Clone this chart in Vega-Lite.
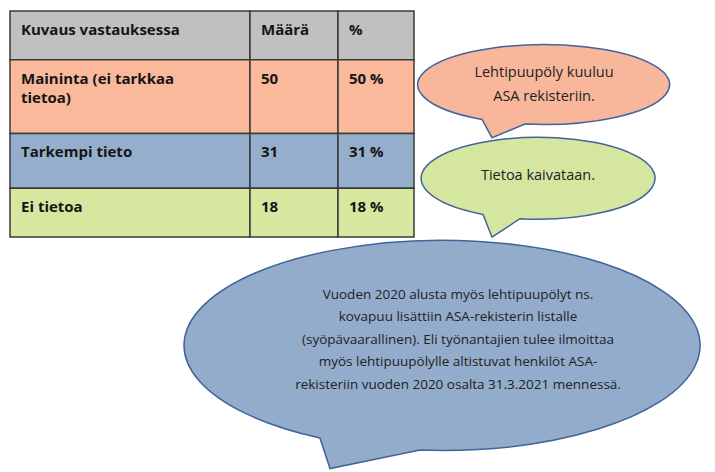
{
  "$schema": "https://vega.github.io/schema/vega-lite/v6.json",
  "width": 715,
  "height": 472,
  "padding": 0,
  "autosize": {"type": "fit", "contains": "padding"},
  "background": "white",
  "config": {"view": {"stroke": null}},
  "datasets": {
    "cells": [
      {"row": "header", "x0": 10, "x1": 250, "y0": 11, "y1": 60, "label": "Kuvaus vastauksessa"},
      {"row": "header", "x0": 250, "x1": 338, "y0": 11, "y1": 60, "label": "Määrä"},
      {"row": "header", "x0": 338, "x1": 414, "y0": 11, "y1": 60, "label": "%"},
      {"row": "Maininta", "x0": 10, "x1": 250, "y0": 60, "y1": 134, "label": "Maininta (ei tarkkaa|tietoa)"},
      {"row": "Maininta", "x0": 250, "x1": 338, "y0": 60, "y1": 134, "label": "50"},
      {"row": "Maininta", "x0": 338, "x1": 414, "y0": 60, "y1": 134, "label": "50 %"},
      {"row": "Tarkempi", "x0": 10, "x1": 250, "y0": 134, "y1": 189, "label": "Tarkempi tieto"},
      {"row": "Tarkempi", "x0": 250, "x1": 338, "y0": 134, "y1": 189, "label": "31"},
      {"row": "Tarkempi", "x0": 338, "x1": 414, "y0": 134, "y1": 189, "label": "31 %"},
      {"row": "Ei tietoa", "x0": 10, "x1": 250, "y0": 189, "y1": 238, "label": "Ei tietoa"},
      {"row": "Ei tietoa", "x0": 250, "x1": 338, "y0": 189, "y1": 238, "label": "18"},
      {"row": "Ei tietoa", "x0": 338, "x1": 414, "y0": 189, "y1": 238, "label": "18 %"}
    ],
    "bubbles": [
      {"id": "b1", "cx": 544, "cy": 85, "text": "Lehtipuupöly kuuluu|ASA rekisteriin."},
      {"id": "b2", "cx": 538, "cy": 179, "text": "Tietoa kaivataan."},
      {"id": "b3", "cx": 443, "cy": 347, "text": "Vuoden 2020 alusta myös lehtipuupölyt ns.|kovapuu lisättiin ASA-rekisterin listalle|(syöpävaarallinen). Eli työnantajien tulee ilmoittaa|myös lehtipuupölylle altistuvat henkilöt ASA-|rekisteriin vuoden 2020 osalta 31.3.2021 mennessä."}
    ]
  },
  "layer": [
    {
      "data": {"name": "cells"},
      "mark": {"type": "rect", "stroke": "#3a3a3a", "strokeWidth": 1.5},
      "encoding": {
        "x": {"field": "x0", "type": "quantitative", "scale": {"domain": [0, 715], "nice": false, "zero": false}, "axis": null},
        "x2": {"field": "x1"},
        "y": {"field": "y0", "type": "quantitative", "scale": {"domain": [0, 472], "nice": false, "zero": false, "reverse": true}, "axis": null},
        "y2": {"field": "y1"},
        "color": {"field": "row", "type": "nominal", "legend": null,
          "scale": {"domain": ["header", "Maininta", "Tarkempi", "Ei tietoa"], "range": ["#c0c0c0", "#f9b99a", "#95aecb", "#d6e8a0"]}}
      }
    },
    {
      "data": {"name": "cells"},
      "mark": {"type": "text", "align": "left", "baseline": "top", "dx": 11, "dy": 12, "font": "Open Sans", "fontWeight": "bold", "fontSize": 15, "lineHeight": 19, "lineBreak": "|", "color": "#151515"},
      "encoding": {
        "x": {"field": "x0", "type": "quantitative"},
        "y": {"field": "y0", "type": "quantitative"},
        "text": {"field": "label"}
      }
    },
    {
      "data": {"name": "bubbles"},
      "transform": [{"filter": "datum.id === 'b1'"}],
      "mark": {"type": "point", "filled": true, "opacity": 1, "fill": "#f8b79a", "stroke": "#41649a", "strokeWidth": 1.5, "size": 63504,
        "shape": "M -0.492 0.276 A 1 0.317 0 1 1 -0.151 0.313 L -0.413 0.421 Z"},
      "encoding": {"x": {"field": "cx", "type": "quantitative"}, "y": {"field": "cy", "type": "quantitative"}}
    },
    {
      "data": {"name": "bubbles"},
      "transform": [{"filter": "datum.id === 'b2'"}],
      "mark": {"type": "point", "filled": true, "opacity": 1, "fill": "#d4e69f", "stroke": "#41649a", "strokeWidth": 1.5, "size": 54756,
        "shape": "M -0.470 0.309 A 1 0.35 0 1 1 -0.154 0.346 L -0.393 0.504 Z"},
      "encoding": {"x": {"field": "cx", "type": "quantitative"}, "y": {"field": "cy", "type": "quantitative"}}
    },
    {
      "data": {"name": "bubbles"},
      "transform": [{"filter": "datum.id === 'b3'"}],
      "mark": {"type": "point", "filled": true, "opacity": 1, "fill": "#93accb", "stroke": "#41649a", "strokeWidth": 1.5, "size": 266256,
        "shape": "M -0.477 0.358 A 1 0.407 0 1 1 -0.089 0.405 L -0.438 0.477 Z"},
      "encoding": {"x": {"field": "cx", "type": "quantitative"}, "y": {"field": "cy", "type": "quantitative"}}
    },
    {
      "data": {"name": "bubbles"},
      "transform": [{"filter": "datum.id === 'b1'"}],
      "mark": {"type": "text", "align": "center", "baseline": "middle", "dy": -12, "font": "Open Sans", "fontSize": 14.5, "lineHeight": 24, "lineBreak": "|", "color": "#222222"},
      "encoding": {"x": {"field": "cx", "type": "quantitative"}, "y": {"field": "cy", "type": "quantitative"}, "text": {"field": "text"}}
    },
    {
      "data": {"name": "bubbles"},
      "transform": [{"filter": "datum.id === 'b2'"}],
      "mark": {"type": "text", "align": "center", "baseline": "middle", "dy": -2, "font": "Open Sans", "fontSize": 14.5, "lineHeight": 23, "lineBreak": "|", "color": "#222222"},
      "encoding": {"x": {"field": "cx", "type": "quantitative"}, "y": {"field": "cy", "type": "quantitative"}, "text": {"field": "text"}}
    },
    {
      "data": {"name": "bubbles"},
      "transform": [{"filter": "datum.id === 'b3'"}],
      "mark": {"type": "text", "align": "center", "baseline": "middle", "dx": 15, "dy": -51, "font": "Open Sans", "fontSize": 13.5, "lineHeight": 22.5, "lineBreak": "|", "color": "#222222"},
      "encoding": {"x": {"field": "cx", "type": "quantitative"}, "y": {"field": "cy", "type": "quantitative"}, "text": {"field": "text"}}
    }
  ]
}
